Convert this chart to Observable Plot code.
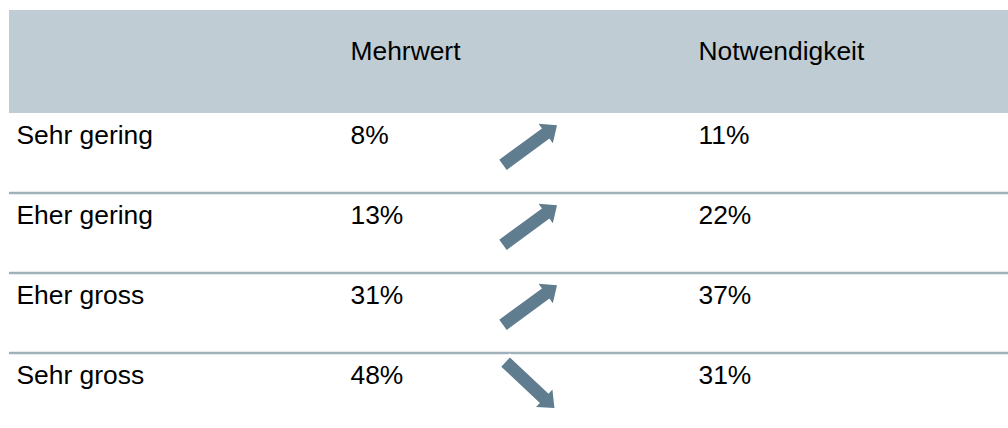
<!DOCTYPE html>
<html>
<head>
<meta charset="utf-8">
<script src="https://cdn.jsdelivr.net/npm/d3@7"></script>
<script src="https://cdn.jsdelivr.net/npm/@observablehq/plot@0.6"></script>
<style>
  html, body { margin: 0; padding: 0; background: #ffffff; }
  #chart svg { display: block; }
</style>
</head>
<body>
<div id="chart"></div>
<script>
// ---- data ----
const categories = ["Sehr gering", "Eher gering", "Eher gross", "Sehr gross"];
const columns = ["Mehrwert", "Notwendigkeit"];
const mehrwert = [8, 13, 31, 48];
const notwendigkeit = [11, 22, 37, 31];

// ---- layout ----
const W = 1008, H = 428;
const left = 9, headerTop = 10, headerBottom = 113;
const firstLine = 112.5, rowH = 80;
const colLabel = 16, colA = 350, colArrow = 529.5, colB = 698;
const headerBaseline = 59;
const lineY = i => firstLine + rowH * i;
const baseline = i => lineY(i) + 31.3;

const headerFill = "#bfccd3";
const ruleColor = "#9fb1bb";
const arrowColor = "#5f7d8e";
const font = "'Liberation Sans', Arial, Helvetica, sans-serif";

// block arrow shape for the vector mark
const blockArrow = {
  draw(context, l) {
    const w = 6.3, h = 12, hl = 14;
    context.moveTo(-w, 0);
    context.lineTo(-w, -(l - hl));
    context.lineTo(-h, -(l - hl));
    context.lineTo(0, -l);
    context.lineTo(h, -(l - hl));
    context.lineTo(w, -(l - hl));
    context.lineTo(w, 0);
    context.closePath();
  }
};

const textOpts = {
  fontSize: 26.4,
  fill: "#000",
  textAnchor: "start",
  lineAnchor: "bottom"
};

const chart = Plot.plot({
  width: W,
  height: H,
  margin: 0,
  x: {domain: [0, W], range: [0, W], axis: null},
  y: {domain: [0, H], range: [0, H], axis: null},
  style: {fontFamily: font, background: "#ffffff", overflow: "visible"},
  marks: [
    Plot.rect([0], {x1: () => left, x2: () => W, y1: () => headerTop, y2: () => headerBottom, fill: headerFill}),
    Plot.ruleY([1, 2, 3], {y: d => lineY(d), x1: () => left, x2: () => W, stroke: ruleColor, strokeWidth: 2.5}),
    Plot.text(columns, {...textOpts, x: (d, i) => (i === 0 ? colA : colB), y: () => headerBaseline, text: d => d}),
    Plot.text(categories, {...textOpts, x: () => colLabel, y: (d, i) => baseline(i), text: d => d}),
    Plot.text(mehrwert, {...textOpts, x: () => colA, y: (d, i) => baseline(i), text: d => d + "%"}),
    Plot.text(notwendigkeit, {...textOpts, x: () => colB, y: (d, i) => baseline(i), text: d => d + "%"}),
    Plot.vector(categories, {
      x: () => colArrow,
      y: (d, i) => lineY(i) + 32,
      length: 67,
      rotate: (d, i) => (notwendigkeit[i] >= mehrwert[i] ? 53.7 : 133.2),
      shape: blockArrow,
      anchor: "middle",
      fill: arrowColor,
      stroke: "#ffffff",
      strokeWidth: 6,
      strokeLinejoin: "miter",
      paintOrder: "stroke"
    })
  ]
});

document.getElementById("chart").appendChild(chart);
</script>
</body>
</html>
